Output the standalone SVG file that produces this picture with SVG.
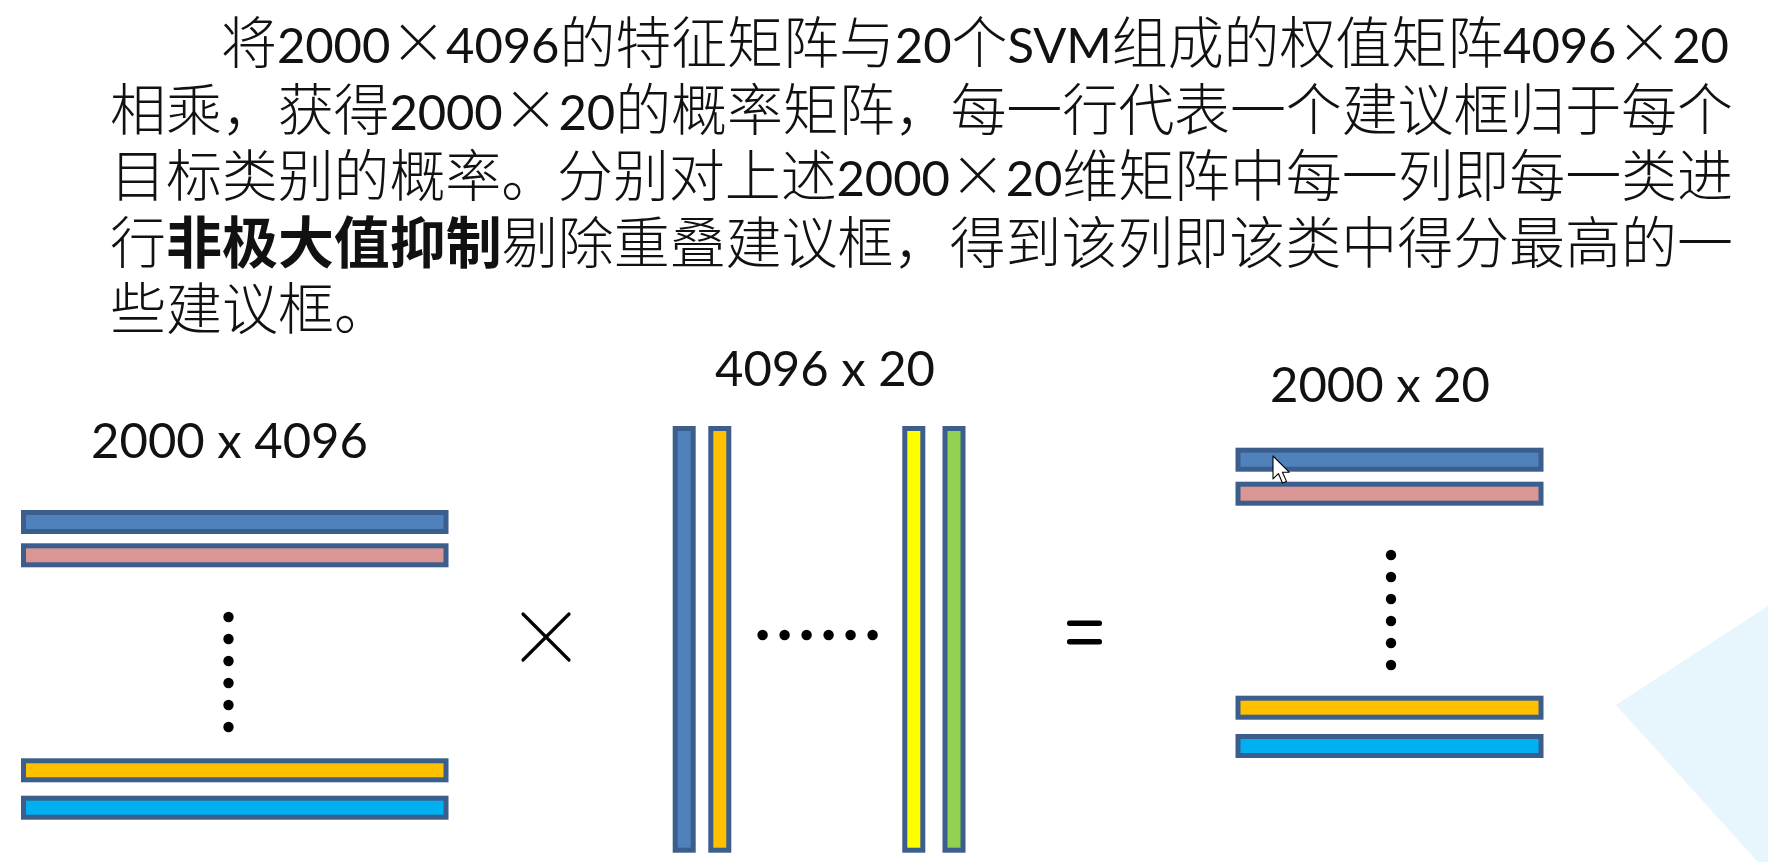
<svg xmlns="http://www.w3.org/2000/svg" width="1768" height="862" viewBox="0 0 1768 862">
  <style>
    .para { font-family: 'Noto Sans CJK SC', sans-serif; font-size: 56px; font-weight: 300; fill: #111; }
    .d { font-family: Lato, 'Noto Sans CJK SC', sans-serif; font-size: 49px; font-weight: 400; }
    .b { font-weight: 700; }
    .lbl { font-family: Lato, 'Liberation Sans', sans-serif; font-size: 49px; fill: #111; text-anchor: middle; }
    .bar { stroke: #3B5E8C; stroke-width: 5; }
    .blue { fill: #4F81BD; }
    .pink { fill: #D99694; }
    .orange { fill: #FFC000; }
    .cyan { fill: #00B0F0; }
    .yellow { fill: #FFFF00; }
    .green { fill: #92D050; }
    .dot { fill: #000; }
  </style>

  <rect width="1768" height="862" fill="#FFFFFF"/>

  <!-- pale decorative wedge at the lower right -->
  <g id="background">
    <polygon points="1616,705 1768,606 1768,862 1758,862" fill="#E6F6FC"/>
  </g>

  <!-- explanatory paragraph -->
  <g id="paragraph" class="para">
    <text x="221" y="63" textLength="1508" lengthAdjust="spacing">将<tspan class="d">2000</tspan>×<tspan class="d">4096</tspan>的特征矩阵与<tspan class="d">20</tspan>个<tspan class="d">SVM</tspan>组成的权值矩阵<tspan class="d">4096</tspan>×<tspan class="d">20</tspan></text>
    <text x="110" y="129.5" textLength="1623" lengthAdjust="spacing">相乘，获得<tspan class="d">2000</tspan>×<tspan class="d">20</tspan>的概率矩阵，每一行代表一个建议框归于每个</text>
    <text x="110" y="196" textLength="1623" lengthAdjust="spacing">目标类别的概率。分别对上述<tspan class="d">2000</tspan>×<tspan class="d">20</tspan>维矩阵中每一列即每一类进</text>
    <text x="110" y="262.5" textLength="1623" lengthAdjust="spacing">行<tspan class="b">非极大值抑制</tspan>剔除重叠建议框，得到该列即该类中得分最高的一</text>
    <text x="110" y="329">些建议框。</text>
  </g>

  <!-- feature matrix 2000 x 4096 -->
  <g id="matrix-features">
    <text class="lbl" x="229.5" y="458">2000 x 4096</text>
    <rect class="bar blue" x="23.5" y="512.5" width="422.5" height="19"/>
    <rect class="bar pink" x="23.5" y="545.8" width="422.5" height="19"/>
    <circle class="dot" cx="228.5" cy="617" r="5.2"/>
    <circle class="dot" cx="228.5" cy="639" r="5.2"/>
    <circle class="dot" cx="228.5" cy="661" r="5.2"/>
    <circle class="dot" cx="228.5" cy="683" r="5.2"/>
    <circle class="dot" cx="228.5" cy="705" r="5.2"/>
    <circle class="dot" cx="228.5" cy="727" r="5.2"/>
    <rect class="bar orange" x="23.5" y="760.8" width="422.5" height="19"/>
    <rect class="bar cyan" x="23.5" y="798.2" width="422.5" height="19"/>
  </g>

  <!-- multiplication sign -->
  <g id="op-times" stroke="#000" stroke-width="3.2" stroke-linecap="round">
    <line x1="523" y1="614" x2="569" y2="660"/>
    <line x1="569" y1="614" x2="523" y2="660"/>
  </g>

  <!-- SVM weight matrix 4096 x 20 -->
  <g id="matrix-weights">
    <text class="lbl" x="825" y="386">4096 x 20</text>
    <rect class="bar blue" x="675.2" y="428.5" width="18" height="421.7"/>
    <rect class="bar orange" x="710.8" y="428.5" width="18" height="421.7"/>
    <circle class="dot" cx="762.6" cy="635" r="5.2"/>
    <circle class="dot" cx="784.6" cy="635" r="5.2"/>
    <circle class="dot" cx="806.6" cy="635" r="5.2"/>
    <circle class="dot" cx="828.6" cy="635" r="5.2"/>
    <circle class="dot" cx="850.6" cy="635" r="5.2"/>
    <circle class="dot" cx="872.6" cy="635" r="5.2"/>
    <rect class="bar yellow" x="904.8" y="428.5" width="18" height="421.7"/>
    <rect class="bar green" x="945" y="428.5" width="18" height="421.7"/>
  </g>

  <!-- equals sign -->
  <g id="op-equals" fill="#000">
    <rect x="1067" y="620.5" width="35" height="5.6" rx="2.5"/>
    <rect x="1067" y="639" width="35" height="5.6" rx="2.5"/>
  </g>

  <!-- score matrix 2000 x 20 -->
  <g id="matrix-scores">
    <text class="lbl" x="1380" y="401.5">2000 x 20</text>
    <rect class="bar blue" x="1238" y="450.2" width="303" height="19"/>
    <rect class="bar pink" x="1238" y="484.2" width="303" height="19"/>
    <circle class="dot" cx="1391" cy="555" r="5.2"/>
    <circle class="dot" cx="1391" cy="577" r="5.2"/>
    <circle class="dot" cx="1391" cy="599" r="5.2"/>
    <circle class="dot" cx="1391" cy="621" r="5.2"/>
    <circle class="dot" cx="1391" cy="643" r="5.2"/>
    <circle class="dot" cx="1391" cy="665" r="5.2"/>
    <rect class="bar orange" x="1238" y="698.2" width="303" height="19"/>
    <rect class="bar cyan" x="1238" y="736.5" width="303" height="19"/>
  </g>

  <!-- mouse pointer -->
  <g id="pointer" transform="translate(1273,456) scale(1.35)">
    <path d="M0 0 V17 L4 13 L7 20 L10 18.8 L7 12 H12 Z" fill="#FFFFFF" stroke="#000" stroke-width="0.8" stroke-linejoin="round"/>
  </g>
</svg>
